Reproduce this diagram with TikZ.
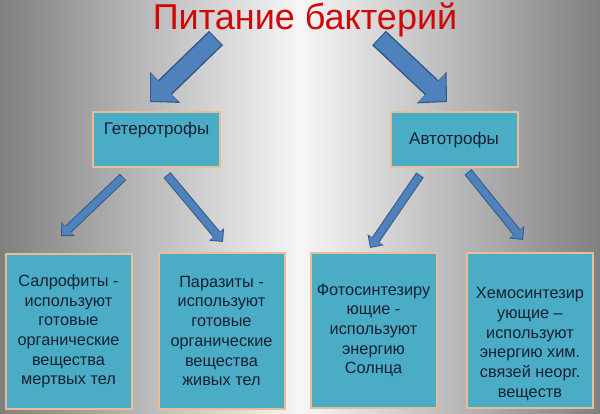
\documentclass[tikz,border=0pt]{standalone}
\usepackage{fontspec}
\setmainfont{Liberation Sans}
\usepackage{tikz}
\usetikzlibrary{arrows.meta,positioning,calc}
\definecolor{bgside}{RGB}{128,128,128}
\definecolor{bgmid}{RGB}{246,246,246}
\definecolor{titlered}{RGB}{208,8,8}
\definecolor{boxfill}{RGB}{75,172,198}
\definecolor{boxedge}{RGB}{232,190,150}
\definecolor{textnavy}{RGB}{22,32,52}
\definecolor{arrowfill}{RGB}{79,129,189}
\definecolor{arrowedge}{RGB}{52,88,136}

\begin{document}
\begin{tikzpicture}[x=1pt,y=-1pt,
  box/.style={draw=boxedge,line width=2pt,fill=boxfill,text=textnavy,
              align=center,font=\fontsize{16.3}{19.7}\selectfont},
  topbox/.style={box,minimum width=127pt,minimum height=55pt},
  lowbox/.style={box,minimum width=126pt,minimum height=155pt,inner sep=1pt},
  bigout/.style={arrowedge,line width=20pt,-{Triangle[width=42pt,length=21pt]}},
  bigin/.style={arrowfill,line width=17pt,-{Triangle[width=38pt,length=19pt]},
                shorten <=1.2pt,shorten >=1.6pt},
  smallout/.style={arrowedge,line width=9pt,-{Triangle[width=19pt,length=10pt]}},
  smallin/.style={arrowfill,line width=7pt,-{Triangle[width=16pt,length=8.5pt]},
                  shorten <=1pt,shorten >=1.3pt}]
  \useasboundingbox (0,0) rectangle (600,414);
  % Background
  \shade[left color=bgside,right color=bgside,middle color=bgmid]
        (0,0) rectangle (600,414);

  % Title
  \node[text=titlered,font=\fontsize{36}{40}\selectfont,anchor=base]
        (title) at (305,30) {Питание бактерий};

  % First level
  \node[topbox] (het) at (156.5,139.5) {};
  \node[text=textnavy,font=\fontsize{17}{20}\selectfont]
        (hettext) at (156.5,130) {Гетеротрофы};
  \node[topbox,font=\fontsize{17}{20}\selectfont] (avt) at (454,140) {Автотрофы};

  % Second level
  \node[lowbox] (sap) at (68.5,331.5)
        {Салрофиты -\\используют\\готовые\\органические\\вещества\\мертвых тел};
  \node[lowbox] (par) at (221.5,331)
        {Паразиты -\\используют\\готовые\\органические\\вещества\\живых тел};
  \node[lowbox] (foto) at (373.5,330.5)
        {Фотосинтезиру\\ющие -\\используют\\энергию\\Солнца};
  \node[lowbox] (hemo) at (530,330.5)
        {\rule{0pt}{38pt}Хемосинтезир\\ующие --\\используют\\энергию хим.\\связей неорг.\\веществ};

  % Arrow ends
  \coordinate (lt) at (216,38);  \coordinate (lh) at (150,102);
  \coordinate (rt) at (379,38);  \coordinate (rh) at (447,102);
  \coordinate (at) at (123,177); \coordinate (ah) at (61,236);
  \coordinate (bt) at (167,175); \coordinate (bh) at (223,242);
  \coordinate (ct) at (420,175); \coordinate (ch) at (370,248);
  \coordinate (dt) at (468,172); \coordinate (dh) at (523,240);

  % Block arrows
  \foreach \a/\b in {lt/lh,rt/rh}{
    \draw[bigout] (\a) -- (\b);
    \draw[bigin] (\a) -- (\b);
  }
  \foreach \a/\b in {at/ah,bt/bh,ct/ch,dt/dh}{
    \draw[smallout] (\a) -- (\b);
    \draw[smallin] (\a) -- (\b);
  }
\end{tikzpicture}
\end{document}
